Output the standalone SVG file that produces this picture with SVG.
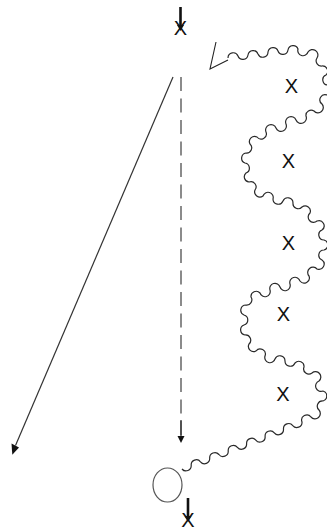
<svg xmlns="http://www.w3.org/2000/svg" width="327" height="530" viewBox="0 0 327 530">
<style>
.lbl{font-family:"Liberation Sans Narrow","Liberation Sans",Arial,sans-serif;font-size:20px;fill:#111;text-anchor:middle}
.thick{stroke:#111;stroke-width:2.6;fill:none}
.wave{stroke:#2a2a2a;stroke-width:1.2;fill:none;stroke-linejoin:round}
</style>
<rect width="327" height="530" fill="#fff"/>
<g id="connectors">
  <g id="dashed-arrow">
    <line x1="181" y1="77" x2="181" y2="437" stroke="#666" stroke-width="1.5" stroke-dasharray="14 7.5"/>
    <line x1="181" y1="420" x2="181" y2="437" stroke="#333" stroke-width="1.3"/>
    <polygon points="177.5,436 184.5,436 181,443" fill="#111"/>
  </g>
  <g id="diagonal-arrow">
    <line x1="173" y1="77" x2="15.5" y2="445.5" stroke="#333" stroke-width="1.2"/>
    <polygon points="11.5,443.5 19,447.5 12.3,454.8" fill="#111"/>
  </g>
  <g id="wavy-line">
    <polyline points="216,42 210,69 228,60" fill="none" stroke="#222" stroke-width="1.1"/>
    <path class="wave" d="M228,58 A5.2,5.2 0 0 1 238,56 A5.2,5.2 0 0 0 248,55 A5.2,5.2 0 0 1 258,54 A5.2,5.2 0 0 0 268,52 A5.2,5.2 0 0 1 278,51 A5.2,5.2 0 0 0 288,50 A5.2,5.2 0 0 1 298,49 A5.2,5.2 0 0 0 308,52 A5.2,5.2 0 0 1 317,58 A5.2,5.2 0 0 0 322,66 A5.2,5.2 0 0 1 326,75 A5.2,5.2 0 0 0 328,85 A5.2,5.2 0 0 1 327,95 A5.2,5.2 0 0 0 322,104 A5.2,5.2 0 0 1 314,111 A5.2,5.2 0 0 0 306,116 A5.2,5.2 0 0 1 296,120 A5.2,5.2 0 0 0 286,124 A5.2,5.2 0 0 1 276,128 A5.2,5.2 0 0 0 266,132 A5.2,5.2 0 0 1 257,137 A5.2,5.2 0 0 0 250,144 A5.2,5.2 0 0 1 246,153 A5.2,5.2 0 0 0 245,163 A5.2,5.2 0 0 1 246,173 A5.2,5.2 0 0 0 249,182 A5.2,5.2 0 0 1 255,190 A5.2,5.2 0 0 0 263,196 A5.2,5.2 0 0 1 273,199 A5.2,5.2 0 0 0 283,201 A5.2,5.2 0 0 1 293,203 A5.2,5.2 0 0 0 302,207 A5.2,5.2 0 0 1 310,213 A5.2,5.2 0 0 0 317,221 A5.2,5.2 0 0 1 322,230 A5.2,5.2 0 0 0 324,240 A5.2,5.2 0 0 1 324,250 A5.2,5.2 0 0 0 322,260 A5.2,5.2 0 0 1 317,269 A5.2,5.2 0 0 0 309,276 A5.2,5.2 0 0 1 300,281 A5.2,5.2 0 0 0 290,284 A5.2,5.2 0 0 1 280,287 A5.2,5.2 0 0 0 270,290 A5.2,5.2 0 0 1 260,293 A5.2,5.2 0 0 0 251,297 A5.2,5.2 0 0 1 246,305 A5.2,5.2 0 0 0 244,315 A5.2,5.2 0 0 1 244,325 A5.2,5.2 0 0 0 245,335 A5.2,5.2 0 0 1 249,344 A5.2,5.2 0 0 0 256,351 A5.2,5.2 0 0 1 265,356 A5.2,5.2 0 0 0 275,359 A5.2,5.2 0 0 1 285,361 A5.2,5.2 0 0 0 295,363 A5.2,5.2 0 0 1 304,367 A5.2,5.2 0 0 0 312,373 A5.2,5.2 0 0 1 319,381 A5.2,5.2 0 0 0 323,391 A5.2,5.2 0 0 1 323,401 A5.2,5.2 0 0 0 319,410 A5.2,5.2 0 0 1 311,417 A5.2,5.2 0 0 0 302,422 A5.2,5.2 0 0 1 292.8,425.6 A5.2,5.2 0 0 0 283.5,429.2 A5.2,5.2 0 0 1 274.3,432.8 A5.2,5.2 0 0 0 265.1,436.5 A5.2,5.2 0 0 1 255.8,440.1 A5.2,5.2 0 0 0 246.6,443.7 A5.2,5.2 0 0 1 237.4,447.3 A5.2,5.2 0 0 0 228.2,450.9 A5.2,5.2 0 0 1 218.9,454.5 A5.2,5.2 0 0 0 209.7,458.2 A5.2,5.2 0 0 1 200.5,461.8 A5.2,5.2 0 0 0 191.2,465.4 A5.2,5.2 0 0 1 182,469"/>
  </g>
</g>
<g id="node-top">
  <line class="thick" x1="180.5" y1="7" x2="180.5" y2="27"/>
  <polygon points="177,25 184,25 180.5,31" fill="#111"/>
  <text class="lbl" x="180.5" y="35">X</text>
</g>
<g id="node-x1"><text class="lbl" x="291.5" y="93">X</text></g>
<g id="node-x2"><text class="lbl" x="288.5" y="168">X</text></g>
<g id="node-x3"><text class="lbl" x="288.5" y="250">X</text></g>
<g id="node-x4"><text class="lbl" x="283.5" y="321">X</text></g>
<g id="node-x5"><text class="lbl" x="283" y="401">X</text></g>
<g id="node-circle">
  <ellipse cx="167.5" cy="485" rx="14.5" ry="17" fill="none" stroke="#555" stroke-width="1.2"/>
</g>
<g id="node-bottom">
  <line class="thick" x1="188" y1="498" x2="188" y2="518"/>
  <polygon points="184.5,516 191.5,516 188,522" fill="#111"/>
  <text class="lbl" x="188" y="527">X</text>
</g>
</svg>
